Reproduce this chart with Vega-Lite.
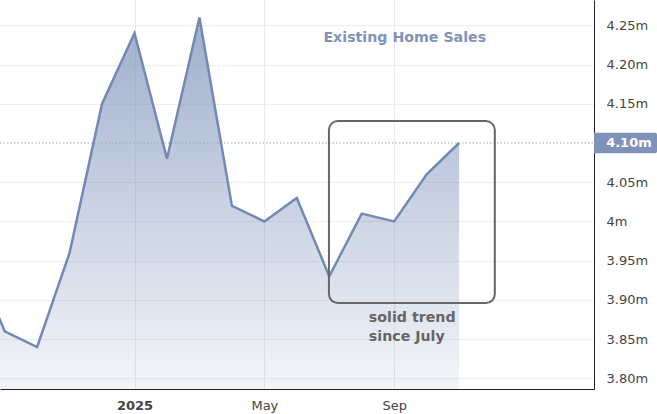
{
  "$schema": "https://vega.github.io/schema/vega-lite/v6.json",
  "width": 594,
  "height": 389,
  "autosize": {"type": "none"},
  "padding": {"left": 0, "top": 0, "right": 63, "bottom": 25},
  "background": "white",
  "config": {"view": {"stroke": null}, "font": "DejaVu Sans"},
  "datasets": {
    "sales": [
      {"month": "2024-08", "idx": -5, "sales": 3.96},
      {"month": "2024-09", "idx": -4, "sales": 3.86},
      {"month": "2024-10", "idx": -3, "sales": 3.84},
      {"month": "2024-11", "idx": -2, "sales": 3.96},
      {"month": "2024-12", "idx": -1, "sales": 4.15},
      {"month": "2025-01", "idx": 0, "sales": 4.24},
      {"month": "2025-02", "idx": 1, "sales": 4.08},
      {"month": "2025-03", "idx": 2, "sales": 4.26},
      {"month": "2025-04", "idx": 3, "sales": 4.02},
      {"month": "2025-05", "idx": 4, "sales": 4.0},
      {"month": "2025-06", "idx": 5, "sales": 4.03},
      {"month": "2025-07", "idx": 6, "sales": 3.93},
      {"month": "2025-08", "idx": 7, "sales": 4.01},
      {"month": "2025-09", "idx": 8, "sales": 4.0},
      {"month": "2025-10", "idx": 9, "sales": 4.06},
      {"month": "2025-11", "idx": 10, "sales": 4.1}
    ]
  },
  "data": {"name": "sales"},
  "encoding": {
    "x": {
      "field": "idx",
      "type": "quantitative",
      "title": null,
      "scale": {"domain": [-4.144, 14.156], "nice": false, "zero": false},
      "axis": {
        "values": [0, 4, 8],
        "labelExpr": "datum.value == 0 ? '2025' : datum.value == 4 ? 'May' : 'Sep'",
        "labelFontWeight": {"condition": {"test": "datum.value == 0", "value": "bold"}, "value": "normal"},
        "labelFontSize": 13,
        "labelColor": "#444444",
        "labelPadding": 10,
        "ticks": false,
        "domainColor": "#1f1f35",
        "domainWidth": 1,
        "grid": true,
        "gridColor": "#eaeaea",
        "gridWidth": 1
      }
    },
    "y": {
      "field": "sales",
      "type": "quantitative",
      "title": null,
      "stack": null,
      "scale": {"domain": [3.7865, 4.2822], "nice": false, "zero": false},
      "axis": {
        "orient": "right",
        "values": [3.8, 3.85, 3.9, 3.95, 4, 4.05, 4.15, 4.2, 4.25],
        "labelExpr": "datum.value == 4 ? '4m' : format(datum.value, '.2f') + 'm'",
        "labelFontSize": 13,
        "labelColor": "#444444",
        "labelPadding": 12,
        "ticks": false,
        "domainColor": "#1f1f35",
        "domainWidth": 1,
        "grid": true,
        "gridColor": "#eeeeee",
        "gridWidth": 1
      }
    }
  },
  "layer": [
    {
      "mark": {
        "type": "area",
        "clip": true,
        "line": false,
        "fill": {
          "gradient": "linear",
          "x1": 1, "y1": 0, "x2": 1, "y2": 1,
          "stops": [
            {"offset": 0, "color": "rgba(122,143,184,0.72)"},
            {"offset": 1, "color": "rgba(122,143,184,0.09)"}
          ]
        }
      }
    },
    {
      "data": {"values": [{"sales": 4.1}]},
      "mark": {"type": "rule", "color": "#8fa2c6", "strokeWidth": 1, "strokeDash": [1.5, 2]},
      "encoding": {"x": {"value": 0}, "x2": {"value": 594}}
    },
    {
      "mark": {"type": "line", "clip": true, "color": "#7389b5", "strokeWidth": 2.5}
    },
    {
      "data": {"values": [{"idx": 5.99, "idx2": 11.1, "sales": 4.128, "sales2": 3.896}]},
      "mark": {"type": "rect", "fill": null, "stroke": "#666666", "strokeWidth": 2, "cornerRadius": 9},
      "encoding": {
        "x2": {"field": "idx2"},
        "y2": {"field": "sales2"}
      }
    },
    {
      "data": {"values": [{"idx": 14.156, "idx2": 16.1, "sales": 4.113, "sales2": 4.087}]},
      "mark": {"type": "rect", "clip": false, "fill": "#7f93b9", "cornerRadiusTopRight": 2, "cornerRadiusBottomRight": 2},
      "encoding": {
        "x2": {"field": "idx2"},
        "y2": {"field": "sales2"}
      }
    },
    {
      "data": {"values": [{"idx": 14.53, "sales": 4.1, "label": "4.10m"}]},
      "mark": {"type": "text", "align": "left", "baseline": "middle", "fontSize": 13, "fontWeight": "bold", "color": "white", "clip": false},
      "encoding": {"text": {"field": "label"}}
    },
    {
      "data": {"values": [{"idx": 5.82, "sales": 4.234, "label": "Existing Home Sales"}]},
      "mark": {"type": "text", "align": "left", "baseline": "middle", "fontSize": 14.2, "fontWeight": "bold", "color": "#7f93b9"},
      "encoding": {"text": {"field": "label"}}
    },
    {
      "data": {"values": [
        {"idx": 7.22, "sales": 3.877, "label": "solid trend"},
        {"idx": 7.22, "sales": 3.853, "label": "since July"}
      ]},
      "mark": {"type": "text", "align": "left", "baseline": "middle", "fontSize": 14.2, "fontWeight": "bold", "color": "#666666"},
      "encoding": {"text": {"field": "label"}}
    }
  ]
}
